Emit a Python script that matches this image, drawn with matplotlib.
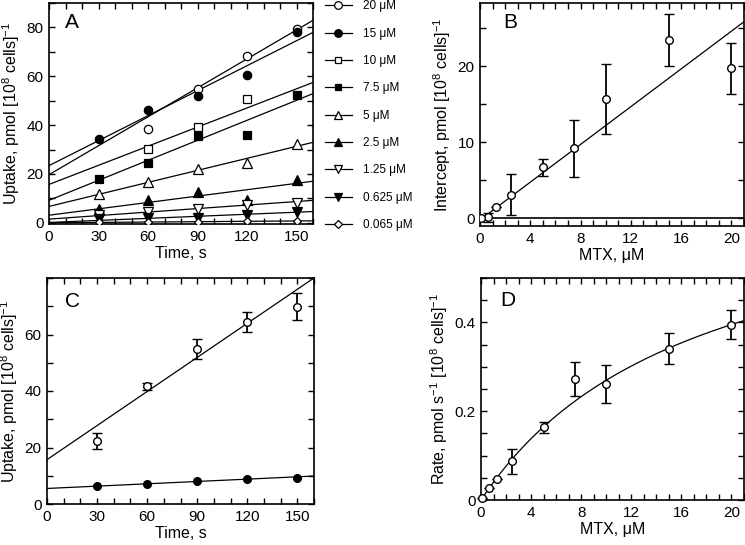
import numpy as np
import matplotlib
matplotlib.use("Agg")
import matplotlib.pyplot as plt
from matplotlib.ticker import MultipleLocator, FixedLocator

plt.rcParams['font.family'] = ['Liberation Sans', 'DejaVu Sans']
plt.rcParams['mathtext.fontset'] = 'custom'
plt.rcParams['mathtext.rm'] = 'Liberation Sans'
plt.rcParams['mathtext.default'] = 'regular'

# ---------------- data ----------------
conc = [20, 15, 10, 7.5, 5, 2.5, 1.25, 0.625, 0.065]
conc_labels = ["20 μM", "15 μM", "10 μM", "7.5 μM", "5 μM", "2.5 μM",
               "1.25 μM", "0.625 μM", "0.065 μM"]
times = [30, 60, 90, 120, 150]
nan = np.nan
uptake_A = [
    [nan, 38.2, 54.7, 68.4, 79.3],   # 20
    [34.4, 46.0, 51.8, 60.7, 78.0],  # 15
    [nan, 30.3, 39.2, 50.6, nan],    # 10
    [18.1, 24.5, 35.5, 35.8, 52.4],  # 7.5
    [11.6, 16.7, 22.2, 24.5, 32.1],  # 5
    [5.6, 9.3, 12.5, 9.2, 17.7],     # 2.5
    [3.3, 4.4, 5.6, 7.2, 8.3],       # 1.25
    [1.5, 1.8, 1.8, 3.1, 4.5],       # 0.625
    [0.3, 0.3, 0.5, 0.7, 0.7],       # 0.065
]
intercept_B = [19.7, 23.4, 15.7, 9.2, 6.7, 3.1, 1.5, 0.13, 0.0]
intercept_err = [3.4, 3.4, 4.6, 3.7, 1.1, 2.7, 0.0, 0.55, 0.0]
rate_D = [0.395, 0.341, 0.261, 0.273, 0.164, 0.087, 0.048, 0.028, 0.005]
rate_err = [0.033, 0.035, 0.042, 0.038, 0.012, 0.028, 0.0, 0.0, 0.0]

# fits
B_fit_intercept, B_fit_slope = -0.2, 1.24
D_vmax, D_km = 0.738, 17.36

C_open = [22.3, 41.6, 54.9, 64.4, 69.9]
C_open_err = [3.0, 1.4, 3.4, 3.4, 4.7]
C_filled = [6.25, 7.2, 8.0, 8.7, 9.2]
C_open_fit = (15.7, 0.402)
C_filled_fit = (5.5, 0.0275)

markers = ['o', 'o', 's', 's', '^', '^', 'v', 'v', 'D']
filled = [False, True, False, True, False, True, False, True, False]
msizes = [6, 6, 5.5, 5.5, 6.5, 6.5, 6.5, 6.5, 4.5]

TICK_FS = 11
LABEL_FS = 11.5

# ---------------- figure ----------------
fig = plt.figure(figsize=(7.45, 5.45), dpi=100)
W, H = 745.0, 545.0

def add_ax(l, r, t, b):
    return fig.add_axes([l / W, 1 - b / H, (r - l) / W, (b - t) / H])

axA = add_ax(49, 313, 3, 224)
axB = add_ax(480, 744, 3, 226)
axC = add_ax(47, 314, 278, 504)
axD = add_ax(481, 744, 278, 500)

def style(ax):
    for s in ax.spines.values():
        s.set_linewidth(1.2)
    ax.tick_params(which='both', direction='in', top=True, right=True,
                   length=4.5, width=1.0, labelsize=TICK_FS, pad=4)

lw = 0.9
# Panel A
tline = np.array([0, 160])
for i in range(len(conc)):
    axA.plot(tline, intercept_B[i] + rate_D[i] * tline, color='black', lw=lw)
for i in range(len(conc)):
    axA.plot(times, uptake_A[i], linestyle='none', marker=markers[i],
             ms=msizes[i], mec='black', mew=0.9,
             mfc='black' if filled[i] else 'white', zorder=3)
handles = []
for i in range(len(conc)):
    h, = axA.plot([], [], color='black', lw=lw, marker=markers[i], ms=msizes[i] - 0.5,
                  mec='black', mew=0.9, mfc='black' if filled[i] else 'white')
    handles.append(h)
axA.legend(handles, conc_labels, loc='upper left', bbox_to_anchor=(1.045, 1.012),
           frameon=False, fontsize=8.5, handlelength=2.3, handletextpad=0.9,
           labelspacing=1.3, borderaxespad=0, borderpad=0)
axA.set_xlim(0, 160)
axA.set_ylim(-0.5, 90)
axA.xaxis.set_major_locator(MultipleLocator(30))
axA.xaxis.set_minor_locator(MultipleLocator(10))
axA.yaxis.set_major_locator(FixedLocator([0, 20, 40, 60, 80]))
axA.yaxis.set_minor_locator(MultipleLocator(10))
axA.set_xlabel("Time, s", fontsize=LABEL_FS, labelpad=2)
axA.set_ylabel("Uptake, pmol [10$^{8}$ cells]$^{-1}$", fontsize=LABEL_FS, labelpad=3)
style(axA)
axA.text(0.06, 0.955, "A", transform=axA.transAxes, fontsize=15, va='top', ha='left')

# Panel B
xfit = np.array([0, 21])
axB.axhline(0, color='black', lw=1.2, zorder=1)
axB.plot(xfit, B_fit_intercept + B_fit_slope * xfit, color='black', lw=lw)
axB.errorbar(conc, intercept_B, yerr=intercept_err, fmt='o', ms=5.5, mfc='white',
             mec='black', mew=1.0, ecolor='black', elinewidth=1.3, capsize=3.5,
             capthick=1.3, zorder=3)
axB.set_xlim(0, 21)
axB.set_ylim(-1, 28.3)
axB.xaxis.set_major_locator(FixedLocator([0, 4, 8, 12, 16, 20]))
axB.xaxis.set_minor_locator(MultipleLocator(1))
axB.yaxis.set_major_locator(FixedLocator([0, 10, 20]))
axB.yaxis.set_minor_locator(MultipleLocator(5))
axB.set_xlabel("MTX, μM", fontsize=LABEL_FS, labelpad=2)
axB.set_ylabel("Intercept, pmol [10$^{8}$ cells]$^{-1}$", fontsize=LABEL_FS, labelpad=3)
style(axB)
axB.text(0.087, 0.955, "B", transform=axB.transAxes, fontsize=15, va='top', ha='left')

# Panel C
axC.plot(tline, C_open_fit[0] + C_open_fit[1] * tline, color='black', lw=lw)
axC.plot(tline, C_filled_fit[0] + C_filled_fit[1] * tline, color='black', lw=lw)
axC.errorbar(times, C_open, yerr=C_open_err, fmt='o', ms=5.5, mfc='white',
             mec='black', mew=1.0, ecolor='black', elinewidth=1.3, capsize=3.5,
             capthick=1.3, zorder=3)
axC.plot(times, C_filled, linestyle='none', marker='o', ms=5.5, mfc='black',
         mec='black', zorder=3)
axC.set_xlim(0, 160)
axC.set_ylim(0, 80)
axC.xaxis.set_major_locator(FixedLocator([0, 30, 60, 90, 120, 150]))
axC.xaxis.set_minor_locator(MultipleLocator(10))
axC.yaxis.set_major_locator(FixedLocator([0, 20, 40, 60]))
axC.yaxis.set_minor_locator(MultipleLocator(10))
axC.set_xlabel("Time, s", fontsize=LABEL_FS, labelpad=2)
axC.set_ylabel("Uptake, pmol [10$^{8}$ cells]$^{-1}$", fontsize=LABEL_FS, labelpad=3)
style(axC)
axC.text(0.067, 0.94, "C", transform=axC.transAxes, fontsize=15, va='top', ha='left')

# Panel D
xc = np.linspace(0, 21, 200)
axD.plot(xc, D_vmax * xc / (D_km + xc), color='black', lw=lw)
axD.errorbar(conc, rate_D, yerr=rate_err, fmt='o', ms=5.5, mfc='white',
             mec='black', mew=1.0, ecolor='black', elinewidth=1.3, capsize=3.5,
             capthick=1.3, zorder=3, clip_on=False)
axD.set_xlim(0, 21)
axD.set_ylim(0, 0.5)
axD.xaxis.set_major_locator(FixedLocator([0, 4, 8, 12, 16, 20]))
axD.xaxis.set_minor_locator(MultipleLocator(1))
axD.yaxis.set_major_locator(FixedLocator([0, 0.2, 0.4]))
axD.yaxis.set_minor_locator(MultipleLocator(0.05))
axD.set_yticklabels(["0", "0.2", "0.4"])
axD.set_xlabel("MTX, μM", fontsize=LABEL_FS, labelpad=2)
axD.set_ylabel("Rate, pmol s$^{-1}$ [10$^{8}$ cells]$^{-1}$", fontsize=LABEL_FS, labelpad=3)
style(axD)
axD.text(0.072, 0.94, "D", transform=axD.transAxes, fontsize=15, va='top', ha='left')

fig.savefig("out.png", dpi=100)
